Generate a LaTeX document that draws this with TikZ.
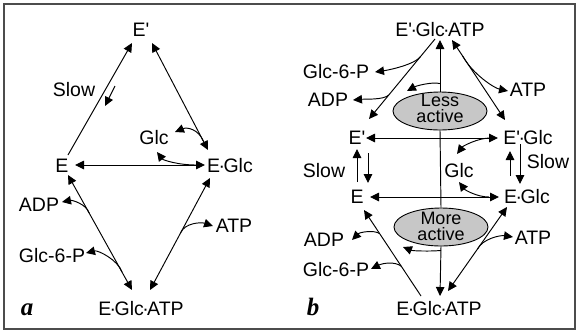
\documentclass[tikz,border=0pt]{standalone}
\usepackage{fontspec}
\setmainfont{Liberation Sans}[Ligatures=TeXOff]
\newfontfamily\panelfont{Liberation Serif}
\usetikzlibrary{arrows.meta,calc,shapes.geometric}
% tightly set centred dot for complexes
\newcommand\cdt{\kern-1.6pt·\kern-1.6pt}

\begin{document}
\begin{tikzpicture}[x=1pt,y=-1pt,
  >={Triangle[length=9pt,width=8.5pt]},
  lbl/.style={inner sep=0pt,font=\fontsize{19.5}{18}\selectfont},
  conn/.style={line width=0.95pt},
  state/.style={ellipse,draw,line width=0.9pt,fill=black!22,inner sep=0pt,
    minimum width=94pt,minimum height=38pt},
  statetext/.style={inner sep=0pt,font=\fontsize{18}{18}\selectfont},
  panel/.style={inner sep=0pt,anchor=base,font=\panelfont\bfseries\itshape\fontsize{25}{25}\selectfont}]

\useasboundingbox (0,0) rectangle (578,333);
\draw[line width=1.4pt,draw=black!70] (4,4) rectangle (575,329);

% ---------- panel a ----------
\node[lbl] (aEp)  at (141,30)  {E'};
\node[lbl] (aE)   at (62,166)  {E};
\node[lbl] (aEG)  at (230,166) {E\cdt Glc};
\node[lbl] (aEGA) at (141,309) {E\cdt Glc\cdt ATP};
\node[lbl] (aGlc) at (154,138) {Glc};
\node[lbl] (aSlow) at (74,90)  {Slow};
\node[lbl] (aADP) at (39,205)  {ADP};
\node[lbl] (aATP) at (234,226) {ATP};
\node[lbl] (aGsP) at (52,256)  {Glc-6-P};
\node[panel] (labA) at (27,315) {a};

\coordinate (a1s) at ($(aE)+(6,-11)$);
\coordinate (a1e) at ($(aEp)+(-9,13)$);
\coordinate (a2s) at ($(aEp)+(11,13)$);
\coordinate (a2e) at ($(aEG)+(-22,-16)$);
\coordinate (a3s) at ($(aE)+(13,-1)$);
\coordinate (a3e) at ($(aEG)+(-25,-1)$);
\coordinate (a4s) at ($(aE)+(6,9)$);
\coordinate (a4e) at ($(aEGA)+(-9,-19)$);
\coordinate (a5s) at ($(aEG)+(-20,12)$);
\coordinate (a5e) at ($(aEGA)+(9,-19)$);

\draw[conn,->]  (a1s) -- (a1e);
\draw[conn,<->] (a2s) -- (a2e);
\draw[conn,<->] (a3s) -- (a3e);
\draw[conn,<->] (a4s) -- (a4e);
\draw[conn,<->] (a5s) -- (a5e);

% slow step marker
\draw[conn,->] ($(aSlow)+(41,-4)$) -- ($(aSlow)+(31,16)$);

% glucose binding / release
\draw[conn,->] ($(a2s)!0.916!(a2e)$) .. controls +(-5,-12) and +(12,-5) .. ($(aGlc)+(21,-6)$);
\draw[conn,->] ($(a3s)!0.93!(a3e)$) .. controls +(-18,0) and +(6,8) .. ($(aGlc)+(3,14)$);
% products and ATP
\draw[conn,->] ($(a4s)!0.33!(a4e)$) .. controls +(-3,-9) and +(10,-2) .. ($(aADP)+(23,-3)$);
\draw[conn,->] ($(a4s)!0.843!(a4e)$) .. controls +(-4,-12) and +(12,-3) .. ($(aGsP)+(34,-3)$);
\draw[conn,->] ($(a5s)!0.49!(a5e)$) .. controls +(4,-10) and +(-12,-4) .. ($(aATP)+(-21,0)$);

% ---------- panel b ----------
\node[lbl] (bEpGA) at (440,30)  {E'\cdt Glc\cdt ATP};
\node[lbl] (bGsPt) at (336,72)  {Glc-6-P};
\node[lbl] (bADPt) at (328,100) {ADP};
\node[lbl] (bATPt) at (528,90)  {ATP};
\node[state] (less) at (440,111) {};
\node[statetext] (lessA) at (440,100) {Less};
\node[statetext] (lessB) at (440,116) {active};
\node[lbl] (bEp)   at (357,138) {E'};
\node[lbl] (bEpG)  at (528,138) {E'\cdt Glc};
\node[lbl] (bSlowL) at (324,171) {Slow};
\node[lbl] (bSlowR) at (548,162) {Slow};
\node[lbl] (bGlc)  at (459,171) {Glc};
\node[lbl] (bE)    at (357,197) {E};
\node[lbl] (bEG)   at (527,197) {E\cdt Glc};
\node[state] (more) at (441,227) {};
\node[statetext] (moreA) at (441,218) {More};
\node[statetext] (moreB) at (441,234) {active};
\node[lbl] (bADPb) at (324,240) {ADP};
\node[lbl] (bATPb) at (533,238) {ATP};
\node[lbl] (bGsPb) at (336,270) {Glc-6-P};
\node[lbl] (bEGA)  at (439,309) {E\cdt Glc\cdt ATP};
\node[panel] (labB) at (313,315) {b};

\coordinate (d1s) at ($(bEpGA)+(-5,9)$);
\coordinate (d1e) at ($(bEp)+(12,-19)$);
\coordinate (d2s) at ($(bEpGA)+(12,10)$);
\coordinate (d2e) at ($(bEpG)+(-23,-18)$);
\coordinate (h1s) at ($(bEp)+(9,0)$);
\coordinate (h1e) at ($(bEpG)+(-30,0)$);
\coordinate (h2s) at ($(bE)+(13,0)$);
\coordinate (h2e) at ($(bEG)+(-28,0)$);
\coordinate (d3s) at ($(bEGA)+(-18,-13)$);
\coordinate (d3e) at ($(bE)+(7,13)$);
\coordinate (d4s) at ($(bEG)+(-20,10)$);
\coordinate (d4e) at ($(bEGA)+(9,-18)$);

% allosteric axis
\draw[conn,->] (less.north) -- ($(bEpGA)+(0,10)$);
\draw[conn] (less.south) -- (more.north);
\draw[conn,->] (more.south) -- ($(bEGA)+(1,-13)$);

% reaction steps
\draw[conn,->]  (d1s) -- (d1e);
\draw[conn,<->] (d2s) -- (d2e);
\draw[conn,<->] (h1s) -- (h1e);
\draw[conn,<->] (h2s) -- (h2e);
\draw[conn,->]  (d3s) -- (d3e);
\draw[conn,<->] (d4s) -- (d4e);

% slow conformational changes
\draw[conn,->] ($(bE)+(0,-15)$) -- ($(bEp)+(0,11)$);
\draw[conn,->] ($(bEp)+(11,15)$) -- ($(bE)+(11,-14)$);
\draw[conn,->] ($(bEG)+(-17,-21)$) -- ($(bEpG)+(-18,13)$);
\draw[conn,->] ($(bEpG)+(-8,6)$) -- ($(bEG)+(-7,-13)$);

% glucose
\draw[conn,->] ($(h1s)!0.94!(h1e)$) .. controls +(-12,0) and +(6,-8) .. ($(bGlc)+(-2,-17)$);
\draw[conn,->] ($(h2s)!0.923!(h2e)$) .. controls +(-12,0) and +(6,8) .. ($(bGlc)+(0,11)$);

% upper cycle products and ATP
\draw[conn,->] ($(d1s)!0.22!(d1e)$) .. controls +(-6,8) and +(14,-2) .. ($(bGsPt)+(39,0)$);
\draw[conn,->] ($(d1s)!0.7!(d1e)$) .. controls +(-5,5) and +(12,-1) .. ($(bADPt)+(25,0)$);
\draw[conn,->] ($(d2s)!0.2!(d2e)$) .. controls +(10,18) and +(-14,-3) .. ($(bATPt)+(-20,1)$);

% lower cycle products and ATP
\draw[conn,->] ($(d3s)!0.724!(d3e)$) .. controls +(-5,-4) and +(8,-8) .. ($(bADPb)+(28,0)$);
\draw[conn,->] ($(d3s)!0.345!(d3e)$) .. controls +(-6,-5) and +(12,-6) .. ($(bGsPb)+(35,-1)$);
\draw[conn,->] ($(d4s)!0.5!(d4e)$) .. controls +(5,-10) and +(-13,-2) .. ($(bATPb)+(-20,-1)$);

% effect on the two enzyme states
\draw[conn,->] ($(less.north)+(0,-8)$) .. controls +(-8,-2) and +(9,-5) .. ($(less)+(-33,-20)$);
\draw[conn,->] ($(more.south)+(0,4)$) .. controls +(-10,1) and +(10,4) .. ($(more)+(-38,20)$);

\end{tikzpicture}
\end{document}
